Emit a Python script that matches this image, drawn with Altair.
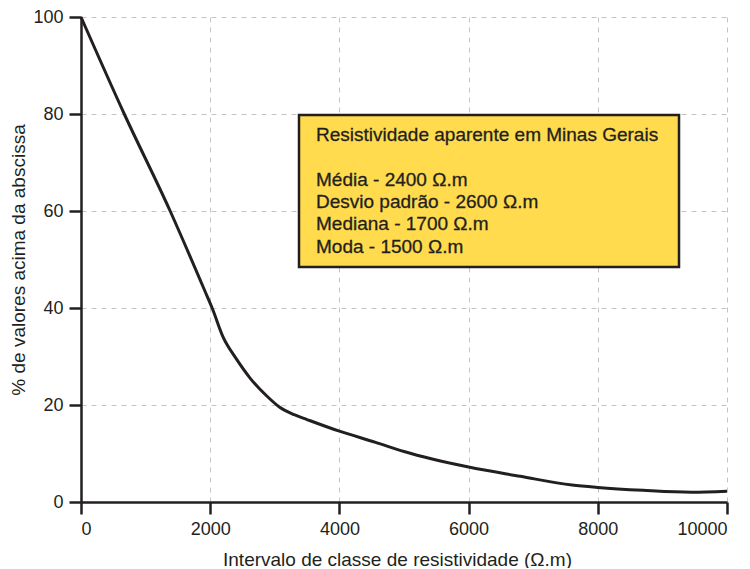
import altair as alt
import pandas as pd

# Curve
resistividade = [0, 670, 1380, 1950, 2030, 2200, 2400, 2620, 2880, 3070, 3300, 3500,
                 4000, 4560, 5000, 6000, 6800, 7600, 8000, 8700, 9450, 10000]
percentual = [100, 80, 60, 42.5, 40, 34, 29.6, 25.5, 21.8, 19.6, 18, 17,
              14.6, 12.3, 10.4, 7.2, 5.3, 3.5, 3.0, 2.4, 2.0, 2.2]

x_ticks = [0, 2000, 4000, 6000, 8000, 10000]
y_ticks = [0, 20, 40, 60, 80, 100]

box_lines = [
    "Resistividade aparente em Minas Gerais",
    "",
    "Média - 2400 Ω.m",
    "Desvio padrão - 2600 Ω.m",
    "Mediana - 1700 Ω.m",
    "Moda - 1500 Ω.m",
]

INK = "#231F20"
FONT = "Liberation Sans"

df = pd.DataFrame({"x": resistividade, "y": percentual})
one = pd.DataFrame({"k": [0]})

line = alt.Chart(df).mark_line(color=INK, strokeWidth=3, interpolate="monotone").encode(
    x=alt.X("x:Q",
            scale=alt.Scale(domain=[0, 10000], nice=False),
            axis=alt.Axis(values=x_ticks, format="d",
                          title="Intervalo de classe de resistividade (Ω.m)",
                          titlePadding=12, titleX=316, titleAlign="center")),
    y=alt.Y("y:Q",
            scale=alt.Scale(domain=[0, 100], nice=False),
            axis=alt.Axis(values=y_ticks, format="d",
                          title="% de valores acima da abscissa",
                          titlePadding=4)),
)

box = alt.Chart(one).mark_rect(fill="#FFDB4D", stroke=INK, strokeWidth=2.5).encode(
    x=alt.value(218), x2=alt.value(598), y=alt.value(98), y2=alt.value(250)
)

layers = [box]
y0 = 123.7
for i, t in enumerate(box_lines):
    if not t:
        continue
    layers.append(
        alt.Chart(one).mark_text(text=t, align="left", baseline="alphabetic", font=FONT,
                                 fontSize=19, color=INK, stroke=INK, strokeWidth=0.3).encode(
            x=alt.value(235), y=alt.value(y0 + i * 22.4)
        )
    )
layers.append(line)

chart = alt.layer(*layers).properties(
    width=646, height=485,
    autosize=alt.AutoSizeParams(type="none"),
    padding={"left": 73, "top": 9, "right": 15, "bottom": 66},
).configure_view(stroke=None).configure_axis(
    domainColor=INK, domainWidth=2.5, tickColor=INK, tickWidth=2.5, tickSize=12,
    labelFont=FONT, labelFontSize=18, labelColor=INK, labelPadding=6,
    titleFont=FONT, titleFontSize=19, titleColor=INK, titleFontWeight="normal",
    gridColor="#C4C4C4", gridDash=[5, 5], gridWidth=1,
)

chart.save("out.html", embed_options={"renderer": "svg", "actions": False})
